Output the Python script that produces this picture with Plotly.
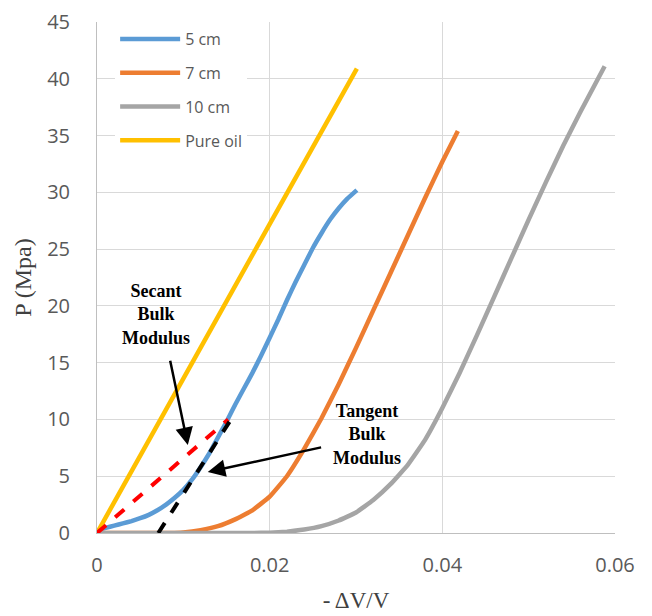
import plotly.graph_objects as go

# ---- data ----
x_5cm = [0, 0.001, 0.002, 0.003, 0.004, 0.005, 0.006, 0.007, 0.008, 0.009, 0.010,
         0.011, 0.012, 0.013, 0.014, 0.015, 0.016, 0.017, 0.018, 0.019, 0.020,
         0.021, 0.022, 0.023, 0.024, 0.025, 0.026, 0.027, 0.028, 0.029, 0.0301]
p_5cm = [0.2, 0.45, 0.65, 0.85, 1.05, 1.3, 1.6, 2.0, 2.5, 3.1, 3.8,
         4.7, 5.8, 7.0, 8.4, 9.8, 11.3, 12.7, 14.1, 15.6, 17.2,
         18.8, 20.5, 22.1, 23.6, 25.1, 26.4, 27.6, 28.6, 29.45, 30.2]

x_7cm = [0, 0.0085, 0.010, 0.012, 0.014, 0.016, 0.018, 0.020, 0.022, 0.024, 0.026,
         0.028, 0.030, 0.032, 0.034, 0.036, 0.038, 0.040, 0.0418]
p_7cm = [0, 0.0, 0.05, 0.25, 0.6, 1.2, 2.0, 3.2, 5.0, 7.4, 10.1,
         13.1, 16.3, 19.6, 22.9, 26.2, 29.5, 32.7, 35.4]

x_10cm = [0, 0.018, 0.020, 0.022, 0.024, 0.026, 0.028, 0.030, 0.032, 0.034, 0.036,
          0.038, 0.040, 0.042, 0.044, 0.046, 0.048, 0.050, 0.052, 0.054, 0.056, 0.0588]
p_10cm = [0, 0, 0.03, 0.12, 0.3, 0.6, 1.1, 1.8, 2.9, 4.3, 6.0,
          8.2, 11.0, 14.1, 17.4, 20.8, 24.2, 27.6, 30.9, 34.1, 37.1, 41.1]

x_oil = [0, 0.010, 0.020, 0.0301]
p_oil = [0, 13.6, 27.2, 40.9]

x_secant = [0, 0.0152]
p_secant = [0, 10]
x_tangent = [0.0071, 0.0156]
p_tangent = [0, 10.1]

series_names = ["5 cm", "7 cm", "10 cm", "Pure oil"]
series_colors = ["#5B9BD5", "#ED7D31", "#A5A5A5", "#FFC000"]

x_ticks = [0, 0.02, 0.04, 0.06]
x_ticklabels = ["0", "0.02", "0.04", "0.06"]
y_ticks = [0, 5, 10, 15, 20, 25, 30, 35, 40, 45]

fig = go.Figure()

for name, xs, ps, col in zip(series_names,
                             [x_5cm, x_7cm, x_10cm, x_oil],
                             [p_5cm, p_7cm, p_10cm, p_oil],
                             series_colors):
    fig.add_trace(go.Scatter(x=xs, y=ps, mode="lines", name=name,
                             legendgroup=name,
                             line=dict(color=col, width=4.5, shape="spline", smoothing=0.3)))

fig.add_trace(go.Scatter(x=x_secant, y=p_secant, mode="lines", showlegend=False,
                         line=dict(color="#FF0000", width=4, dash="dash")))
fig.add_trace(go.Scatter(x=x_tangent, y=p_tangent, mode="lines", showlegend=False,
                         line=dict(color="#000000", width=4, dash="dash")))

ann_font = dict(family="Liberation Serif", size=18, color="#000000")

fig.add_annotation(x=0.0068, y=19.2, text="<b>Secant<br>Bulk<br>Modulus</b>",
                   showarrow=False, font=ann_font, align="center")
fig.add_annotation(x=0.0313, y=8.7, text="<b>Tangent<br>Bulk<br>Modulus</b>",
                   showarrow=False, font=ann_font, align="center")
# arrows
fig.add_annotation(x=0.01052, y=7.75, ax=0.00844, ay=15.3, axref="x", ayref="y",
                   text="", showarrow=True, arrowhead=2, arrowsize=1.4,
                   arrowwidth=2.5, arrowcolor="#000000")
fig.add_annotation(x=0.01283, y=5.37, ax=0.02613, ay=7.57, axref="x", ayref="y",
                   text="", showarrow=True, arrowhead=2, arrowsize=1.4,
                   arrowwidth=2.5, arrowcolor="#000000")

tick_font = dict(family="Open Sans", size=20, color="#595959")
grid = "#D9D9D9"

fig.update_layout(
    width=652, height=616,
    margin=dict(l=89, r=45, t=14, b=91),
    paper_bgcolor="white", plot_bgcolor="white",
    legend=dict(x=0.035, y=1.0, xanchor="left", yanchor="top",
                bgcolor="white", borderwidth=0,
                font=dict(family="Open Sans", size=16, color="#595959"),
                tracegroupgap=10, itemwidth=60),
    xaxis=dict(range=[0, 0.06], tickvals=x_ticks, ticktext=x_ticklabels,
               showgrid=True, gridcolor=grid, gridwidth=1, automargin=False,
               zeroline=False, showline=True, linecolor="#BFBFBF", linewidth=1,
               ticks="", tickfont=tick_font, ticklabelstandoff=14,
               title=dict(text="- ΔV/V", standoff=14,
                          font=dict(family="Liberation Serif", size=23, color="#404040"))),
    yaxis=dict(range=[0, 45], tickvals=y_ticks,
               showgrid=True, gridcolor=grid, gridwidth=1, automargin=False,
               zeroline=False, showline=True, linecolor="#BFBFBF", linewidth=1,
               ticks="", tickfont=tick_font, ticklabelstandoff=22,
               title=dict(text="P (Mpa)", standoff=8,
                          font=dict(family="Liberation Serif", size=24, color="#404040"))),
)

fig.write_html("out.html")
